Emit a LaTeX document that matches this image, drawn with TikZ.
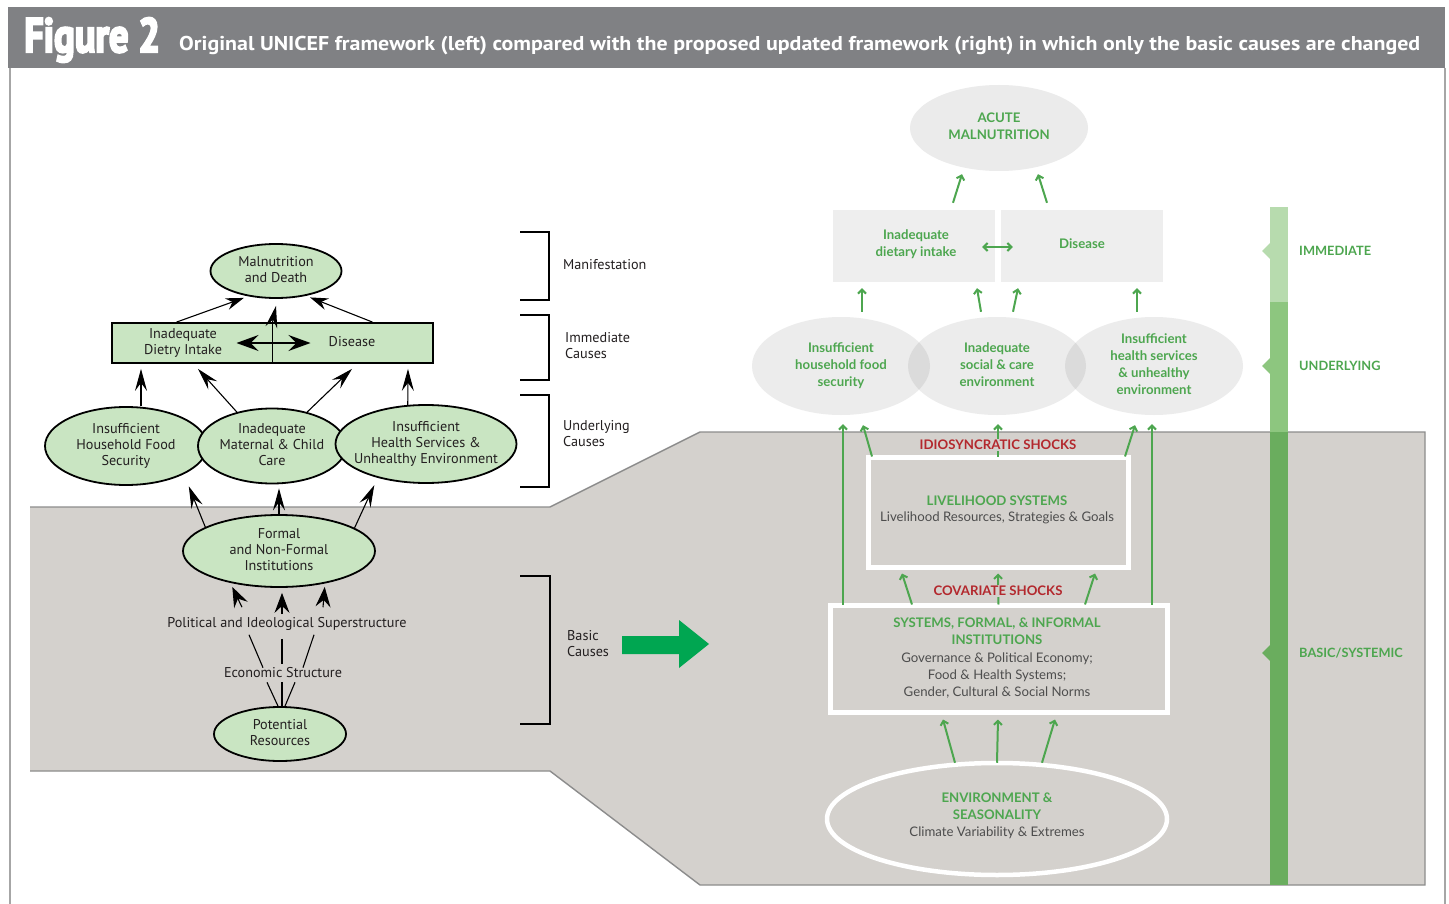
\documentclass[tikz,border=0pt]{standalone}
\usepackage{fontspec}
\setmainfont{PT Sans}
\newfontfamily\rfont{Lato}
\newfontfamily\figfont{PT Sans}[FakeBold=5]
\usetikzlibrary{arrows.meta,shapes.geometric,calc}
\definecolor{lgreen}{HTML}{C9E5C2}
\definecolor{hdr}{HTML}{808184}
\definecolor{bggray}{HTML}{D4D1CD}
\definecolor{bgline}{HTML}{8C8C8C}
\definecolor{rgreen}{HTML}{4DA64F}
\definecolor{dred}{HTML}{B3282D}
\definecolor{dtext}{HTML}{4D4D4D}
\definecolor{ink}{HTML}{231F20}
\definecolor{bgreen}{HTML}{00A651}
\definecolor{barA}{HTML}{B7DBAE}
\definecolor{barB}{HTML}{8DC67F}
\definecolor{barC}{HTML}{6AAD5E}
\definecolor{lbox}{HTML}{EEEEEE}
\newcommand\zt[1]{\makebox[0pt]{\begin{tabular}{@{}c@{}}#1\end{tabular}}}
\begin{document}
\begin{tikzpicture}[x=1pt,y=-1pt,
  lfont/.style={font=\fontsize{14.2}{16}\selectfont, text=ink},
  lell/.style={ellipse, draw=black, line width=1.8pt, fill=lgreen, inner sep=0pt, lfont},
  ltext/.style={inner sep=0pt, lfont},
  barrow/.style={-{Stealth[length=22pt,width=12pt,inset=8pt]}, line width=1.1pt, draw=black},
  parrow/.style={-{Stealth[length=20pt,width=15pt,inset=7pt]}, line width=1.1pt, draw=black},
  dtip/.tip={Stealth[length=22pt,width=16pt,inset=8pt]},
  thinline/.style={line width=1.1pt, draw=black},
  bracket/.style={line width=2pt, draw=black},
  gtext/.style={text=rgreen, font=\rfont\bfseries\fontsize{13.2}{17}\selectfont, inner sep=0pt},
  ttext/.style={text=dtext, font=\rfont\fontsize{13.2}{17}\selectfont, inner sep=0pt},
  shock/.style={font=\rfont\bfseries\fontsize{13.2}{17}\selectfont, text=dred, inner sep=1pt, fill=bggray},
  uell/.style={ellipse, fill=gray, fill opacity=0.15, text opacity=1, inner sep=0pt, minimum width=178pt, minimum height=98pt, gtext},
  wbox/.style={draw=white, line width=5pt, inner sep=0pt},
  garrow/.style={-{Straight Barb[length=4pt,width=8pt]}, line width=2pt, draw=rgreen},
  blabel/.style={font=\rfont\bfseries\fontsize{12.8}{14}\selectfont, text=rgreen, anchor=west, inner sep=0pt}
]
\useasboundingbox (0,0) rectangle (1449,904);
\fill[white] (0,0) rectangle (1449,904);

% header
\fill[hdr] (8,7) rectangle (1445,68);
\draw[line width=1.5pt, draw=gray!70] (10,68) -- (10,904);
\draw[line width=1.5pt, draw=gray!70] (1445,68) -- (1445,904);
\node[anchor=base west, text=white, inner sep=0pt] (fig) at (24,52)
  {\resizebox{136pt}{\height}{\figfont\fontsize{48}{48}\selectfont\bfseries Figure 2}};
\node[anchor=base west, text=white, inner sep=0pt] (title) at (179,51)
  {\resizebox{1241pt}{\height}{\fontsize{20}{20}\selectfont\bfseries Original UNICEF framework (left) compared with the proposed updated framework (right) in which only the basic causes are changed}};

% gray region
\fill[bggray] (30,507) -- (550,507) -- (700,432) -- (1425,432) -- (1425,885) -- (700,885) -- (550,771) -- (30,771) -- cycle;
\draw[line width=1.4pt, draw=bgline] (30,507) -- (550,507) -- (700,432) -- (1425,432) -- (1425,885) -- (700,885) -- (550,771) -- (30,771);

% ---------------- left diagram ----------------
\node[lell, minimum width=131pt, minimum height=54pt] (mal) at (276,271) {\zt{Malnutrition\\and Death}};
\node[draw=black, line width=1.8pt, fill=lgreen, minimum width=321pt, minimum height=40pt, inner sep=0pt] (imm) at (272.5,343) {};
\node[ltext] (diet) at (183,343) {\zt{Inadequate\\Dietry Intake}};
\node[ltext] (dis) at (352,342) {Disease};
\draw[thinline] (imm.south) -- (imm.north);
\draw[barrow] (imm.north) -- ([yshift=-7pt]mal.south);
\draw[{dtip}-{dtip}, line width=1.1pt] ([xshift=-36pt]imm.center) -- ([xshift=38pt]imm.center);
\draw[barrow, -{Stealth[length=18pt,width=12pt,inset=6pt]}] ([xshift=-96pt]imm.north) -- ([xshift=2pt,yshift=-3pt]mal.215);
\draw[barrow, -{Stealth[length=18pt,width=12pt,inset=6pt]}] ([xshift=100pt]imm.north) -- ([xshift=-2pt,yshift=-3pt]mal.327);

\node[lell, minimum width=162pt, minimum height=78pt] (uf) at (126,446) {\zt{Insufficient\\Household Food\\Security}};
\node[lell, minimum width=148pt, minimum height=75pt] (um) at (272,446) {\zt{Inadequate\\Maternal \& Child\\Care}};
\node[lell, minimum width=181pt, minimum height=78pt] (uh) at (426,444) {\zt{Insufficient\\Health Services \&\\Unhealthy Environment}};

\draw[barrow] ([xshift=15pt]uf.north) -- ([xshift=-131.5pt,yshift=-5pt]imm.south);
\draw[barrow] (um.136) -- ([xshift=-74.5pt,yshift=-5pt]imm.south);
\draw[barrow] (um.44) -- ([xshift=79.5pt,yshift=-5pt]imm.south);
\draw[barrow] (uh.115) -- ([xshift=135.5pt,yshift=-5pt]imm.south);

\node[lell, minimum width=192pt, minimum height=72pt] (fo) at (279,551) {\zt{Formal\\and Non-Formal\\Institutions}};
\draw[barrow, shorten >=13pt] (fo.162) -- (uf.south east);
\draw[barrow, shorten >=4pt] (fo.north) -- (fo.north |- um.south);
\draw[barrow, shorten >=8pt] (fo.17) -- (uh.215);

\node[ltext, inner ysep=4pt] (pol) at (287,624) {Political and Ideological Superstructure};
\node[ltext, inner ysep=4pt] (eco) at (283,673) {Economic Structure};
\node[lell, minimum width=132pt, minimum height=54pt] (pot) at (280,734) {\zt{Potential\\Resources}};

\draw[parrow] ([xshift=-45pt,yshift=6pt]pol.north) -- ([xshift=-3pt,yshift=-3pt]fo.217);
\draw[parrow] ([xshift=-5pt,yshift=-1pt]pol.north) -- ([xshift=3pt,yshift=-5pt]fo.south);
\draw[parrow] ([xshift=36pt,yshift=6pt]pol.north) -- ([xshift=2pt,yshift=-3pt]fo.323);

\draw[thinline] ([xshift=-38pt]pol.south) -- ([xshift=-20pt,yshift=-4pt]eco.north);
\draw[thinline] ([xshift=-5pt,yshift=-4pt]pol.south) -- ([xshift=-1pt]eco.north);
\draw[thinline] ([xshift=27pt]pol.south) -- ([xshift=20pt,yshift=-4pt]eco.north);
\draw[thinline] ([xshift=-16pt]eco.south) -- ([xshift=-2pt]pot.north);
\draw[thinline] ([xshift=-1pt]eco.south) -- ([xshift=2pt]pot.north);
\draw[thinline] ([xshift=12pt]eco.south) -- ([xshift=5pt]pot.north);

% brackets
\draw[bracket] (520,232) -- (549,232) -- (549,300) -- (520,300);
\draw[bracket] (520,315) -- (549,315) -- (549,380) -- (520,380);
\draw[bracket] (520,395) -- (549,395) -- (549,487) -- (520,487);
\draw[bracket] (520,576) -- (550,576) -- (550,724) -- (520,724);
\node[ltext, anchor=west] (lman) at (563,265) {Manifestation};
\node[ltext, anchor=west, align=left] (limm) at (565,346) {Immediate\\Causes};
\node[ltext, anchor=west, align=left] (lund) at (563,434) {Underlying\\Causes};
\node[ltext, anchor=west, align=left] (lbas) at (567,644) {Basic\\Causes};

% green block arrow
\fill[bgreen] (622,636) -- (679,636) -- (679,620) -- (709,644) -- (679,668) -- (679,654) -- (622,654) -- cycle;

% ---------------- right diagram ----------------
\node[ellipse, fill=black!8, minimum width=178pt, minimum height=86pt, gtext] (am) at (999,128) {\zt{ACUTE\\MALNUTRITION}};
\node[fill=lbox, minimum width=162pt, minimum height=72pt, inner sep=0pt] (dbox) at (914,246) {};
\node[fill=lbox, minimum width=162pt, minimum height=72pt, inner sep=0pt] (dsbox) at (1082,246) {};
\node[gtext] (dtxt) at (916,245) {\zt{Inadequate\\dietary intake}};
\node[gtext] (dstxt) at (1082,244) {Disease};
\draw[garrow, {Straight Barb[length=4pt,width=8pt]}-{Straight Barb[length=4pt,width=8pt]}] ([xshift=-13pt,yshift=-1pt]dbox.east) -- ([xshift=12pt,yshift=-1pt]dsbox.west);
\draw[garrow] ([xshift=39pt,yshift=7pt]dbox.north) -- ([xshift=-37pt,yshift=-3pt]am.south);
\draw[garrow] ([xshift=-35pt,yshift=7pt]dsbox.north) -- ([xshift=39pt,yshift=-3pt]am.south);

\node[uell] (ul1) at (841,366) {\zt{Insufficient\\household food\\security}};
\node[uell] (ul2) at (997,366) {\zt{Inadequate\\social \& care\\environment}};
\node[uell] (ul3) at (1154,366) {\zt{Insufficient\\health services\\\& unhealthy\\environment}};

\draw[garrow] ([xshift=21pt,yshift=5pt]ul1.north) -- ([xshift=-52pt,yshift=-6pt]dbox.south);
\draw[garrow] ([xshift=-16pt,yshift=5pt]ul2.north) -- ([xshift=63pt,yshift=-6pt]dbox.south);
\draw[garrow] ([xshift=16pt,yshift=5pt]ul2.north) -- ([xshift=-64pt,yshift=-6pt]dsbox.south);
\draw[garrow] ([xshift=-17pt,yshift=5pt]ul3.north) -- ([xshift=55pt,yshift=-6pt]dsbox.south);

% vertical bar
\fill[barA] (1270,207) rectangle (1288,302);
\fill[barB] (1270,302) rectangle (1288,432);
\fill[barC] (1270,432) rectangle (1288,885);
\fill[barA] (1270,243) -- (1262,251) -- (1270,259) -- cycle;
\fill[barB] (1270,358) -- (1262,366) -- (1270,374) -- cycle;
\fill[barC] (1270,645) -- (1262,653) -- (1270,661) -- cycle;
\node[blabel] (bim) at (1299,251) {IMMEDIATE};
\node[blabel] (bun) at (1299,366) {UNDERLYING};
\node[blabel] (bba) at (1299,653) {BASIC/SYSTEMIC};

% boxes
\node[wbox, minimum width=260pt, minimum height=110pt] (lv) at (998,512) {};
\node[gtext] (lvt) at (997,501) {LIVELIHOOD SYSTEMS};
\node[ttext] (lvs) at (997,518) {Livelihood Resources, Strategies \& Goals};

\node[wbox, minimum width=337pt, minimum height=107pt] (sy) at (998.5,658.5) {};
\node[gtext] (syt) at (997,633) {\zt{SYSTEMS, FORMAL, \& INFORMAL\\INSTITUTIONS}};
\node[ttext] (sys) at (997,676) {\zt{Governance \& Political Economy;\\Food \& Health Systems;\\Gender, Cultural \& Social Norms}};

\node[ellipse, draw=white, line width=4.5pt, minimum width=340pt, minimum height=112pt, inner sep=0pt] (en) at (997,819) {};
\node[gtext] (ent) at (997,808) {\zt{ENVIRONMENT \&\\SEASONALITY}};
\node[ttext] (ens) at (997,833) {Climate Variability \& Extremes};

% arrows to underlying
\draw[garrow] ([xshift=-155.5pt,yshift=-2pt]sy.north) -- ([xshift=2pt,yshift=-9pt]ul1.south);
\draw[garrow] ([xshift=153.5pt,yshift=-2pt]sy.north) -- ([xshift=-2pt,yshift=-9pt]ul3.south);
\draw[garrow] ([xshift=-126pt,yshift=-2pt]lv.north) -- ([xshift=22pt,yshift=-10pt]ul1.south);
\draw[garrow] ([yshift=-2pt]lv.north) -- ([xshift=1pt,yshift=-9pt]ul2.south);
\draw[garrow] ([xshift=127pt,yshift=-2pt]lv.north) -- ([xshift=-19pt,yshift=-10pt]ul3.south);
\node[shock] (idio) at (998,445) {IDIOSYNCRATIC SHOCKS};

\draw[garrow] ([xshift=-86.5pt,yshift=-2pt]sy.north) -- ([xshift=-96pt,yshift=-4pt]lv.south);
\draw[garrow] ([yshift=-2pt]sy.north) -- ([yshift=-4pt]lv.south);
\draw[garrow] ([xshift=86.5pt,yshift=-2pt]sy.north) -- ([xshift=97pt,yshift=-4pt]lv.south);
\node[shock] (cov) at (998,591) {COVARIATE SHOCKS};

\draw[garrow] ([xshift=-42pt,yshift=-2pt]en.north) -- ([xshift=-55.5pt,yshift=-5pt]sy.south);
\draw[garrow] ([yshift=-2pt]en.north) -- ([xshift=-0.5pt,yshift=-5pt]sy.south);
\draw[garrow] ([xshift=45pt,yshift=-2pt]en.north) -- ([xshift=56.5pt,yshift=-5pt]sy.south);
\end{tikzpicture}
\end{document}
